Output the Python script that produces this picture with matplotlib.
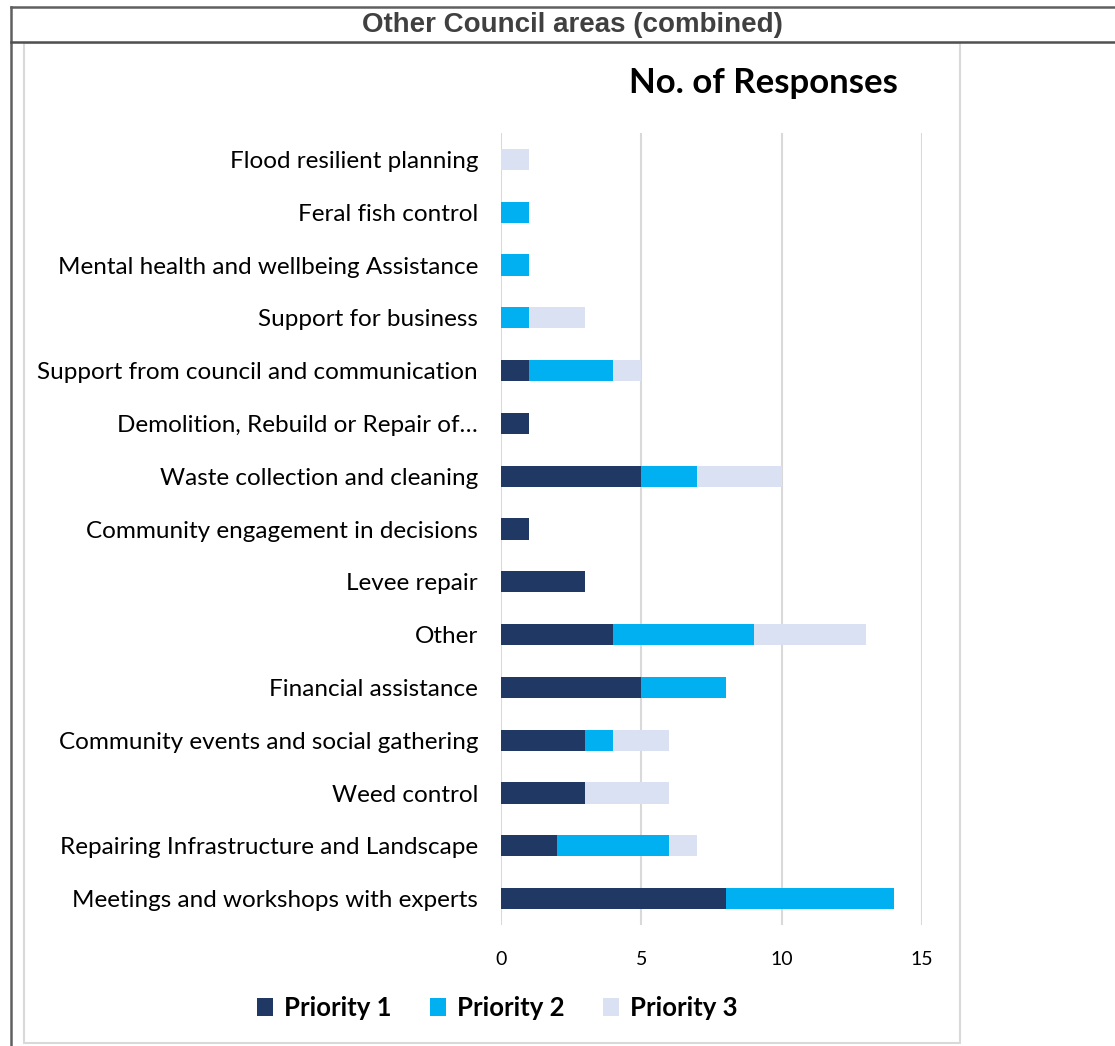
import matplotlib
matplotlib.use("Agg")
import matplotlib.pyplot as plt
from matplotlib.patches import Patch, Rectangle
from matplotlib.lines import Line2D
import numpy as np

categories = [
    "Flood resilient planning",
    "Feral fish control",
    "Mental health and wellbeing Assistance",
    "Support for business",
    "Support from council and communication",
    "Demolition, Rebuild or Repair of\u2026",
    "Waste collection and cleaning",
    "Community engagement in decisions",
    "Levee repair",
    "Other",
    "Financial assistance",
    "Community events and social gathering",
    "Weed control",
    "Repairing Infrastructure and Landscape",
    "Meetings and workshops with experts",
]
priority1 = [0, 0, 0, 0, 1, 1, 5, 1, 3, 4, 5, 3, 3, 2, 8]
priority2 = [0, 1, 1, 1, 3, 0, 2, 0, 0, 5, 3, 1, 0, 4, 6]
priority3 = [1, 0, 0, 2, 1, 0, 3, 0, 0, 4, 0, 2, 3, 1, 0]
series_names = ["Priority 1", "Priority 2", "Priority 3"]
xticks = [0, 5, 10, 15]

colors = ["#1F3864", "#00B0F0", "#D9E1F2"]
W, H = 1115, 1046
fig = plt.figure(figsize=(W / 100, H / 100), dpi=100)
fig.patch.set_facecolor("white")

def fx(px):
    return px / W

def fy(py):
    return 1 - py / H

# outer frame lines
fig.add_artist(Line2D([fx(11), fx(11)], [fy(7), fy(1046)], color="#606060", lw=1.8, transform=fig.transFigure))
fig.add_artist(Line2D([fx(11), 1], [fy(7), fy(7)], color="#606060", lw=1.8, transform=fig.transFigure))
fig.add_artist(Line2D([fx(11), 1], [fy(42), fy(42)], color="#505050", lw=1.8, transform=fig.transFigure))
# inner chart box
fig.add_artist(Rectangle((fx(24), fy(1043)), fx(960) - fx(24), fy(43) - fy(1043),
                         fill=False, edgecolor="#D9D9D9", lw=1.5, transform=fig.transFigure))

fig.text(fx(572), fy(25), "Other Council areas (combined)", ha="center", va="center",
         fontsize=20, fontweight="bold", color="#404040",
         family=["Liberation Sans Narrow", "Liberation Sans", "DejaVu Sans"])
fig.text(fx(763), fy(83), "No. of Responses", ha="center", va="center",
         fontsize=25, fontweight="bold", color="black", family=["Lato", "DejaVu Sans"])

ax = fig.add_axes([fx(501), fy(925), fx(922) - fx(501), fy(133) - fy(925)])
y = np.arange(len(categories))[::-1]
p1 = np.array(priority1)
p2 = np.array(priority2)
p3 = np.array(priority3)
ax.barh(y, p1, height=0.4, color=colors[0], zorder=3)
ax.barh(y, p2, left=p1, height=0.4, color=colors[1], zorder=3)
ax.barh(y, p3, left=p1 + p2, height=0.4, color=colors[2], zorder=3)

ax.set_xlim(0, 15)
ax.set_ylim(-0.5, len(categories) - 0.5)
ax.set_xticks(xticks)
ax.set_xticklabels([str(t) for t in xticks], fontsize=14, family=["Lato", "DejaVu Sans"])
ax.set_yticks(y)
ax.set_yticklabels(categories, fontsize=17.5, family=["Lato", "DejaVu Sans"])
ax.tick_params(axis="both", length=0)
ax.tick_params(axis="x", pad=18.5)
ax.tick_params(axis="y", pad=16.5)
ax.grid(axis="x", color="#D9D9D9", lw=1.5, zorder=0)
for s in ax.spines.values():
    s.set_visible(False)

handles = [Patch(facecolor=c, edgecolor="none") for c in colors]
leg = fig.legend(handles, series_names, loc="center", bbox_to_anchor=(fx(497), fy(1008)),
                 ncol=3, frameon=False, handlelength=0.65, handleheight=0.65,
                 handletextpad=0.4, columnspacing=1.5,
                 prop={"family": ["Lato", "DejaVu Sans"], "weight": "bold", "size": 18.5})

fig.savefig("out.png", dpi=100, facecolor="white")
